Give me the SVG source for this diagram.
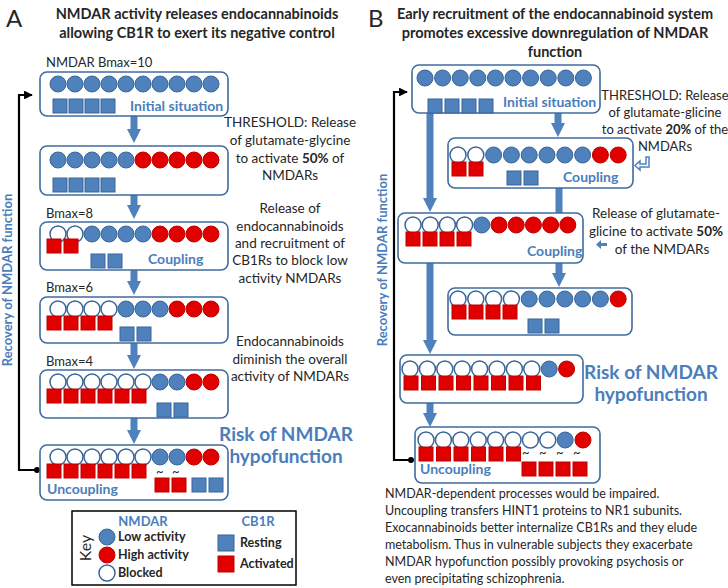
<svg xmlns="http://www.w3.org/2000/svg" xmlns:xlink="http://www.w3.org/1999/xlink" width="728" height="588" viewBox="0 0 728 588">
<style>
text{font-family:Lato,"Liberation Sans",sans-serif;fill:#262626}
.t{font-size:14.5px;font-weight:bold;text-anchor:middle}
.n{font-size:13.5px;text-anchor:middle}
.b{fill:#4a7ebb;font-weight:bold}
.bx{fill:#fff;stroke:#3f6b9e;stroke-width:1.6}
.ln{fill:none;stroke:#000;stroke-width:2.2}
.ba{fill:none;stroke:#4f81bd;stroke-width:7}
.lbl{font-size:13px}
</style>
<defs>
<circle id="lo" r="8" fill="#4f81bd" stroke="#3a6597" stroke-width="1"/>
<circle id="hi" r="8" fill="#e00000" stroke="#c00000" stroke-width="1"/>
<circle id="bl" r="8" fill="#fff" stroke="#3a6597" stroke-width="1.5"/>
<rect id="rs" width="14" height="14" fill="#4f81bd" stroke="#3a6597" stroke-width="1"/>
<rect id="ac" width="14" height="14" fill="#e00000" stroke="#c00000" stroke-width="1"/>
<marker id="ah" viewBox="0 0 10 10" refX="9" refY="5" markerWidth="4" markerHeight="4" orient="auto"><path d="M0,0L10,5L0,10z" fill="#000"/></marker>
<marker id="bh" viewBox="0 0 10 10" refX="5" refY="5" markerWidth="2.6" markerHeight="2" orient="auto"><path d="M0,0L10,5L0,10z" fill="#4f81bd"/></marker>
</defs>

<!-- Titles -->
<text x="6" y="27" style="font-size:24px">A</text>
<text x="197" y="19" class="t">NMDAR activity releases endocannabinoids</text>
<text x="197" y="38" class="t">allowing CB1R to exert its negative control</text>
<text x="368" y="27" style="font-size:24px">B</text>
<text x="555" y="19" class="t">Early recruitment of the endocannabinoid system</text>
<text x="555" y="38" class="t">promotes excessive downregulation of  NMDAR</text>
<text x="555" y="57" class="t">function</text>

<!-- connectors -->
<g id="connectors">
<path class="ba" d="M134,116V136" marker-end="url(#bh)"/>
<path class="ba" d="M134,195V212" marker-end="url(#bh)"/>
<path class="ba" d="M134,270V288" marker-end="url(#bh)"/>
<path class="ba" d="M134,343V362" marker-end="url(#bh)"/>
<path class="ba" d="M134,418V437" marker-end="url(#bh)"/>
<path class="ln" d="M35,470H19V95H32" marker-end="url(#ah)"/>
<circle cx="37" cy="470" r="3" fill="#000"/>
<path class="ln" d="M146,259H133V246H88" marker-end="url(#ah)"/>
<path class="ln" d="M118,492H140V474H158" marker-end="url(#ah)"/>

<path class="ba" d="M558,113V130" marker-end="url(#bh)"/>
<path class="ba" d="M430,113V205" marker-end="url(#bh)"/>
<path class="ba" d="M559,188V213"/>
<path class="ba" d="M559,263V280" marker-end="url(#bh)"/>
<path class="ba" d="M430,263V347" marker-end="url(#bh)"/>
<path class="ba" d="M430,403V420" marker-end="url(#bh)"/>
<path class="ln" d="M411,460H394V92H407" marker-end="url(#ah)"/>
<circle cx="411" cy="460" r="3" fill="#000"/>
<path class="ln" d="M552,178H543V168H496" marker-end="url(#ah)"/>
<path class="ln" d="M522,252H503V239H484" marker-end="url(#ah)"/>
<path class="ln" d="M488,472H505V455H519" marker-end="url(#ah)"/>
<path d="M640,164h6v-7h3v10h-9v3l-5-4.5l5-4.5z" fill="#fff" stroke="#4f81bd" stroke-width="1.5"/>
<path d="M596,243h6v-3l5,4.5l-5,4.5v-3h-6z" transform="rotate(180 601.5 244.5)" fill="#4f81bd"/>
</g>

<!-- Panel A -->
<text x="46" y="67" class="lbl">NMDAR Bmax=10</text>
<g id="a1">
<rect class="bx" x="40" y="72" width="188" height="44" rx="7"/>
<use href="#lo" x="58" y="84"/><use href="#lo" x="75" y="84"/><use href="#lo" x="92" y="84"/><use href="#lo" x="109" y="84"/><use href="#lo" x="126" y="84"/><use href="#lo" x="143" y="84"/><use href="#lo" x="160" y="84"/><use href="#lo" x="177" y="84"/><use href="#lo" x="194" y="84"/><use href="#lo" x="211" y="84"/>
<use href="#rs" x="53" y="99"/><use href="#rs" x="69" y="99"/><use href="#rs" x="85" y="99"/><use href="#rs" x="101" y="99"/>
<text x="130" y="111" class="b" style="font-size:14px">Initial situation</text>
</g>
<g id="a2">
<rect class="bx" x="40" y="146" width="188" height="49" rx="7"/>
<use href="#lo" x="58" y="160"/><use href="#lo" x="75" y="160"/><use href="#lo" x="92" y="160"/><use href="#lo" x="109" y="160"/><use href="#lo" x="126" y="160"/><use href="#hi" x="143" y="160"/><use href="#hi" x="160" y="160"/><use href="#hi" x="177" y="160"/><use href="#hi" x="194" y="160"/><use href="#hi" x="211" y="160"/>
<use href="#rs" x="53" y="178"/><use href="#rs" x="69" y="178"/><use href="#rs" x="85" y="178"/><use href="#rs" x="101" y="178"/>
</g>
<text x="46" y="218" class="lbl">Bmax=8</text>
<g id="a3">
<rect class="bx" x="40" y="222" width="188" height="48" rx="7"/>
<use href="#bl" x="58" y="234"/><use href="#bl" x="75" y="234"/><use href="#lo" x="92" y="234"/><use href="#lo" x="109" y="234"/><use href="#lo" x="126" y="234"/><use href="#lo" x="143" y="234"/><use href="#hi" x="160" y="234"/><use href="#hi" x="177" y="234"/><use href="#hi" x="194" y="234"/><use href="#hi" x="211" y="234"/>
<use href="#ac" x="47" y="239"/><use href="#ac" x="64" y="239"/>
<use href="#rs" x="91" y="254"/><use href="#rs" x="108" y="254"/>
<text x="148" y="264" class="b" style="font-size:14px">Coupling</text>
</g>
<text x="46" y="292" class="lbl">Bmax=6</text>
<g id="a4">
<rect class="bx" x="40" y="297" width="188" height="46" rx="7"/>
<use href="#bl" x="58" y="309"/><use href="#bl" x="75" y="309"/><use href="#bl" x="92" y="309"/><use href="#bl" x="109" y="309"/><use href="#lo" x="126" y="309"/><use href="#lo" x="143" y="309"/><use href="#lo" x="160" y="309"/><use href="#hi" x="177" y="309"/><use href="#hi" x="194" y="309"/><use href="#hi" x="211" y="309"/>
<use href="#ac" x="47" y="316"/><use href="#ac" x="64" y="316"/><use href="#ac" x="81" y="316"/><use href="#ac" x="98" y="316"/>
<use href="#rs" x="120" y="327"/><use href="#rs" x="137" y="327"/>
</g>
<text x="46" y="366" class="lbl">Bmax=4</text>
<g id="a5">
<rect class="bx" x="40" y="370" width="188" height="48" rx="7"/>
<use href="#bl" x="58" y="382"/><use href="#bl" x="75" y="382"/><use href="#bl" x="92" y="382"/><use href="#bl" x="109" y="382"/><use href="#bl" x="126" y="382"/><use href="#bl" x="143" y="382"/><use href="#lo" x="160" y="382"/><use href="#lo" x="177" y="382"/><use href="#hi" x="194" y="382"/><use href="#hi" x="211" y="382"/>
<use href="#ac" x="47" y="389"/><use href="#ac" x="64" y="389"/><use href="#ac" x="81" y="389"/><use href="#ac" x="98" y="389"/><use href="#ac" x="115" y="389"/><use href="#ac" x="132" y="389"/>
<use href="#rs" x="157" y="403"/><use href="#rs" x="174" y="403"/>
</g>
<g id="a6">
<rect class="bx" x="40" y="445" width="188" height="55" rx="7"/>
<use href="#bl" x="58" y="457"/><use href="#bl" x="75" y="457"/><use href="#bl" x="92" y="457"/><use href="#bl" x="109" y="457"/><use href="#bl" x="126" y="457"/><use href="#bl" x="143" y="457"/><use href="#lo" x="160" y="457"/><use href="#lo" x="177" y="457"/><use href="#hi" x="194" y="457"/><use href="#hi" x="211" y="457"/>
<use href="#ac" x="47" y="464"/><use href="#ac" x="64" y="464"/><use href="#ac" x="81" y="464"/><use href="#ac" x="98" y="464"/><use href="#ac" x="115" y="464"/><use href="#ac" x="132" y="464"/>
<text x="156" y="476" style="font-size:13px">~</text><text x="172" y="476" style="font-size:13px">~</text>
<use href="#ac" x="155" y="478"/><use href="#ac" x="172" y="478"/><use href="#rs" x="192" y="478"/><use href="#rs" x="209" y="478"/>
<text x="47" y="494" class="b" style="font-size:14px">Uncoupling</text>
</g>
<text x="286" y="441" class="t b" style="font-size:19px">Risk of NMDAR</text>
<text x="286" y="463" class="t b" style="font-size:19px">hypofunction</text>
<g class="n">
<text x="290" y="127" class="n">THRESHOLD: Release</text>
<text x="290" y="145" class="n">of glutamate-glycine</text>
<text x="290" y="163" class="n">to activate <tspan font-weight="bold">50%</tspan> of</text>
<text x="290" y="180" class="n">NMDARs</text>
<text x="290" y="213" class="n">Release of</text>
<text x="290" y="231" class="n">endocannabinoids</text>
<text x="290" y="248" class="n">and recruitment of</text>
<text x="290" y="265" class="n">CB1Rs to block low</text>
<text x="290" y="283" class="n">activity NMDARs</text>
<text x="290" y="346" class="n">Endocannabinoids</text>
<text x="290" y="364" class="n">diminish the overall</text>
<text x="290" y="381" class="n">activity of NMDARs</text>
</g>
<text transform="translate(12,280) rotate(-90)" class="b" style="font-size:13px;text-anchor:middle">Recovery of NMDAR function</text>

<!-- Key -->
<g id="key">
<rect x="72" y="511" width="224" height="74" fill="#fff" stroke="#000" stroke-width="1.5"/>
<text transform="translate(91,548) rotate(-90)" style="font-size:16px;text-anchor:middle">Key</text>
<text x="143" y="526" class="b" style="font-size:13px;text-anchor:middle">NMDAR</text>
<text x="258" y="526" class="b" style="font-size:13px;text-anchor:middle">CB1R</text>
<use href="#lo" x="107" y="537"/><text x="118" y="541" style="font-size:12.5px;font-weight:bold">Low activity</text>
<use href="#hi" x="107" y="555"/><text x="118" y="559" style="font-size:12.5px;font-weight:bold">High activity</text>
<use href="#bl" x="107" y="573"/><text x="118" y="577" style="font-size:12.5px;font-weight:bold">Blocked</text>
<rect x="218" y="535" width="16" height="16" fill="#4f81bd" stroke="#3a6597"/><text x="240" y="547" style="font-size:12.5px;font-weight:bold">Resting</text>
<rect x="218" y="556" width="16" height="16" fill="#e00000" stroke="#c00000"/><text x="240" y="568" style="font-size:12.5px;font-weight:bold">Activated</text>
</g>

<!-- Panel B -->
<g id="b1">
<rect class="bx" x="412" y="65" width="188" height="48" rx="7"/>
<use href="#lo" x="425" y="78"/><use href="#lo" x="442.6" y="78"/><use href="#lo" x="460.2" y="78"/><use href="#lo" x="477.8" y="78"/><use href="#lo" x="495.4" y="78"/><use href="#lo" x="513" y="78"/><use href="#lo" x="530.6" y="78"/><use href="#lo" x="548.2" y="78"/><use href="#lo" x="565.8" y="78"/><use href="#lo" x="583.4" y="78"/>
<use href="#rs" x="428" y="99"/><use href="#rs" x="445" y="99"/><use href="#rs" x="462" y="99"/><use href="#rs" x="479" y="99"/>
<text x="503" y="107" class="b" style="font-size:14px">Initial situation</text>
</g>
<g id="b2">
<rect class="bx" x="448" y="138" width="185" height="50" rx="7"/>
<use href="#bl" x="458" y="155"/><use href="#bl" x="475.8" y="155"/><use href="#lo" x="493.6" y="155"/><use href="#lo" x="511.4" y="155"/><use href="#lo" x="529.2" y="155"/><use href="#lo" x="547" y="155"/><use href="#lo" x="564.8" y="155"/><use href="#lo" x="582.6" y="155"/><use href="#hi" x="600.4" y="155"/><use href="#hi" x="618.2" y="155"/>
<use href="#ac" x="452" y="162"/><use href="#ac" x="469" y="162"/>
<use href="#rs" x="507" y="171"/><use href="#rs" x="524" y="171"/>
<text x="563" y="182" class="b" style="font-size:14px">Coupling</text>
</g>
<g id="b3">
<rect class="bx" x="398" y="213" width="185" height="50" rx="7"/>
<use href="#bl" x="413" y="225"/><use href="#bl" x="430.2" y="225"/><use href="#bl" x="447.4" y="225"/><use href="#bl" x="464.6" y="225"/><use href="#lo" x="481.8" y="225"/><use href="#hi" x="499" y="225"/><use href="#hi" x="516.2" y="225"/><use href="#hi" x="533.4" y="225"/><use href="#hi" x="550.6" y="225"/><use href="#hi" x="567.8" y="225"/>
<use href="#ac" x="406" y="232"/><use href="#ac" x="423" y="232"/><use href="#ac" x="440" y="232"/><use href="#ac" x="457" y="232"/>
<text x="527" y="256" class="b" style="font-size:14px">Coupling</text>
</g>
<g id="b4">
<rect class="bx" x="448" y="288" width="184" height="47" rx="7"/>
<use href="#bl" x="458" y="299"/><use href="#bl" x="475.8" y="299"/><use href="#bl" x="493.6" y="299"/><use href="#bl" x="511.4" y="299"/><use href="#lo" x="529.2" y="299"/><use href="#lo" x="547" y="299"/><use href="#lo" x="564.8" y="299"/><use href="#lo" x="582.6" y="299"/><use href="#lo" x="600.4" y="299"/><use href="#hi" x="618.2" y="299"/>
<use href="#ac" x="452" y="305"/><use href="#ac" x="469" y="305"/><use href="#ac" x="486" y="305"/><use href="#ac" x="503" y="305"/>
<use href="#rs" x="528" y="319"/><use href="#rs" x="545" y="319"/>
</g>
<g id="b5">
<rect class="bx" x="400" y="355" width="183" height="48" rx="7"/>
<use href="#bl" x="410" y="369"/><use href="#bl" x="427.4" y="369"/><use href="#bl" x="444.8" y="369"/><use href="#bl" x="462.2" y="369"/><use href="#bl" x="479.6" y="369"/><use href="#bl" x="497" y="369"/><use href="#bl" x="514.4" y="369"/><use href="#bl" x="531.8" y="369"/><use href="#lo" x="549.2" y="369"/><use href="#hi" x="566.6" y="369"/>
<use href="#ac" x="404" y="376"/><use href="#ac" x="421.5" y="376"/><use href="#ac" x="439" y="376"/><use href="#ac" x="456.5" y="376"/><use href="#ac" x="474" y="376"/><use href="#ac" x="491.5" y="376"/><use href="#ac" x="509" y="376"/><use href="#ac" x="526.5" y="376"/>
</g>
<text x="651" y="379" class="t b" style="font-size:19px">Risk of NMDAR</text>
<text x="651" y="401" class="t b" style="font-size:19px">hypofunction</text>
<g id="b6">
<rect class="bx" x="415" y="427" width="185" height="56" rx="7"/>
<use href="#bl" x="426" y="440"/><use href="#bl" x="443.4" y="440"/><use href="#bl" x="460.8" y="440"/><use href="#bl" x="478.2" y="440"/><use href="#bl" x="495.6" y="440"/><use href="#bl" x="513" y="440"/><use href="#bl" x="530.4" y="440"/><use href="#bl" x="547.8" y="440"/><use href="#lo" x="565.2" y="440"/><use href="#hi" x="583" y="440"/>
<use href="#ac" x="419" y="447"/><use href="#ac" x="436.5" y="447"/><use href="#ac" x="454" y="447"/><use href="#ac" x="471.5" y="447"/><use href="#ac" x="489" y="447"/><use href="#ac" x="506.5" y="447"/>
<text x="522" y="457" style="font-size:13px">~</text><text x="539" y="457" style="font-size:13px">~</text><text x="556" y="457" style="font-size:13px">~</text><text x="573" y="457" style="font-size:13px">~</text>
<use href="#ac" x="522" y="462"/><use href="#ac" x="539" y="462"/><use href="#ac" x="556" y="462"/><use href="#ac" x="573" y="462"/>
<text x="420" y="474" class="b" style="font-size:14px">Uncoupling</text>
</g>
<g style="font-size:13px;text-anchor:middle">
<text x="665" y="100">THRESHOLD: Release</text>
<text x="665" y="117">of glutamate-glicine</text>
<text x="665" y="134">to activate <tspan font-weight="bold">20%</tspan> of the</text>
<text x="665" y="151">NMDARs</text>
</g>
<text x="656" y="218" class="n">Release of glutamate-</text>
<text x="656" y="236" class="n">glicine to activate <tspan font-weight="bold">50%</tspan></text>
<text x="662" y="254" class="n">of the NMDARs</text>
<text transform="translate(387,260) rotate(-90)" class="b" style="font-size:13px;text-anchor:middle">Recovery of NMDAR function</text>
<g style="font-size:12.5px">
<text x="385" y="498">NMDAR-dependent processes would be impaired.</text>
<text x="385" y="515">Uncoupling transfers HINT1 proteins to NR1 subunits.</text>
<text x="385" y="532">Exocannabinoids better internalize CB1Rs and they elude</text>
<text x="385" y="549">metabolism. Thus in vulnerable subjects they exacerbate</text>
<text x="385" y="566">NMDAR hypofunction possibly provoking psychosis or</text>
<text x="385" y="583">even precipitating schizophrenia.</text>
</g>
</svg>
